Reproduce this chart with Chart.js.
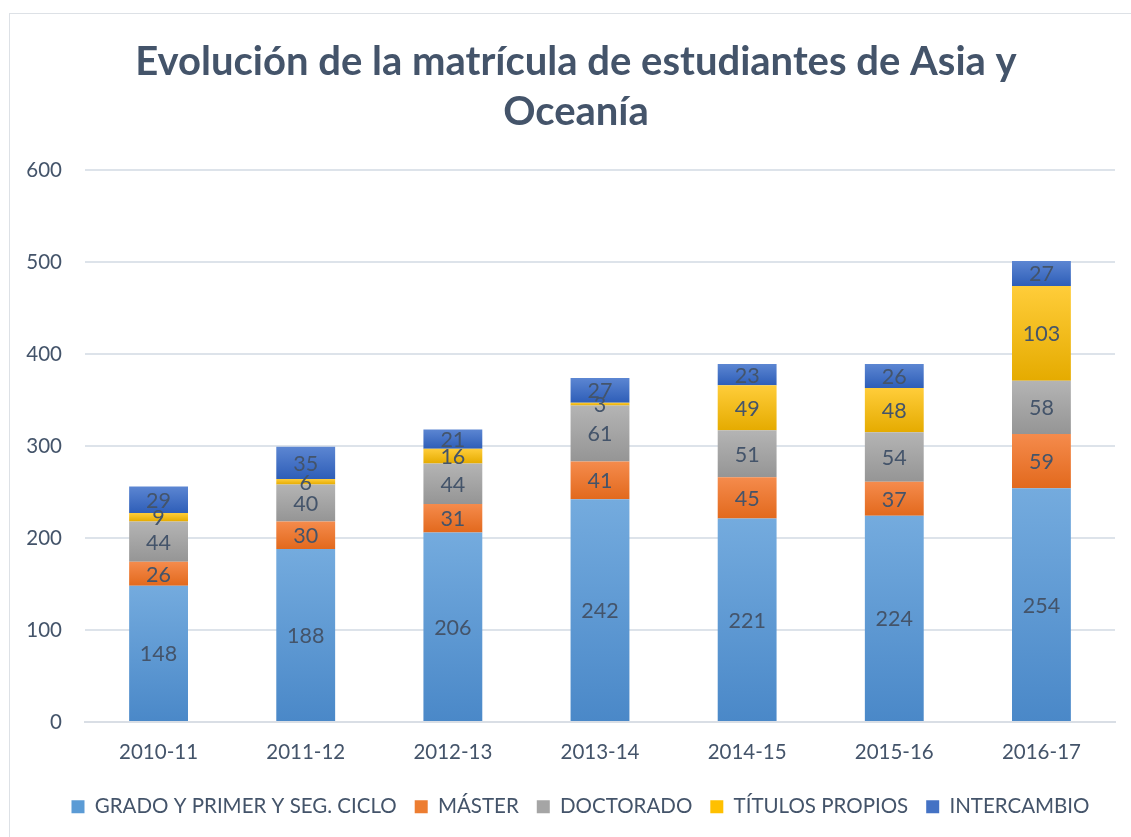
<!DOCTYPE html>
<html>
<head>
<meta charset="utf-8">
<script src="https://cdn.jsdelivr.net/npm/chart.js@4/dist/chart.umd.min.js"></script>
<style>
  html, body { margin: 0; padding: 0; background: #fff; }
  #frame { position: absolute; left: 9px; top: 13px; width: 1130px; height: 830px; border: 1px solid #dde1e6; box-sizing: border-box; pointer-events: none; }
  #c { position: absolute; left: 0; top: 0; }
</style>
</head>
<body>
<canvas id="c" width="1131" height="837"></canvas>
<div id="frame"></div>
<script>
const categories = ["2010-11", "2011-12", "2012-13", "2013-14", "2014-15", "2015-16", "2016-17"];
const seriesNames = ["GRADO Y PRIMER Y SEG. CICLO", "MÁSTER", "DOCTORADO", "TÍTULOS PROPIOS", "INTERCAMBIO"];
const grado = [148, 188, 206, 242, 221, 224, 254];
const master = [26, 30, 31, 41, 45, 37, 59];
const doctorado = [44, 40, 44, 61, 51, 54, 58];
const titulos = [9, 6, 16, 3, 49, 48, 103];
const intercambio = [29, 35, 21, 27, 23, 26, 27];
const yTicks = [0, 100, 200, 300, 400, 500, 600];

const seriesValues = [grado, master, doctorado, titulos, intercambio];
const gradTop = ["#74abde", "#f58b4c", "#b4b4b4", "#ffcd3a", "#5c86d2"];
const gradBottom = ["#4a88c8", "#e2691d", "#959595", "#e5ab00", "#2e5eb8"];
const solid = ["#5b9bd5", "#ed7d31", "#a5a5a5", "#ffc000", "#4472c4"];

const FONT = "Lato, Carlito, Calibri, 'Open Sans', sans-serif";
const TEXT = "#44546a";

function segmentGradient(ctx, dsIndex) {
  const chart = ctx.chart;
  const y = chart.scales && chart.scales.y;
  if (!y || !chart.chartArea || ctx.dataIndex === undefined) return solid[dsIndex];
  let base = 0;
  for (let k = 0; k < dsIndex; k++) base += seriesValues[k][ctx.dataIndex];
  const top = base + seriesValues[dsIndex][ctx.dataIndex];
  const p0 = y.getPixelForValue(top), p1 = y.getPixelForValue(base);
  if (!isFinite(p0) || !isFinite(p1) || p0 === p1) return solid[dsIndex];
  const g = chart.ctx.createLinearGradient(0, p0, 0, p1);
  g.addColorStop(0, gradTop[dsIndex]);
  g.addColorStop(1, gradBottom[dsIndex]);
  return g;
}

const datasets = seriesNames.map((name, i) => ({
  label: name,
  data: seriesValues[i],
  backgroundColor: (ctx) => segmentGradient(ctx, i),
  borderWidth: 0,
  barPercentage: 0.4,
  categoryPercentage: 1.0,
  stack: "s"
}));

const valueLabels = {
  id: "valueLabels",
  afterDatasetsDraw(chart) {
    const ctx = chart.ctx;
    ctx.save();
    ctx.font = "21.5px " + FONT;
    ctx.fillStyle = TEXT;
    ctx.textAlign = "center";
    ctx.textBaseline = "middle";
    chart.data.datasets.forEach((ds, di) => {
      const meta = chart.getDatasetMeta(di);
      meta.data.forEach((el, idx) => {
        const v = ds.data[idx];
        const cy = (el.y + el.base) / 2;
        ctx.fillText(String(v), el.x, cy + 1);
      });
    });
    ctx.restore();
  }
};

// The reference centres title and legend slightly right of the canvas middle.
const shiftBlocks = {
  id: "shiftBlocks",
  afterLayout(chart) {
    if (chart.titleBlock) { chart.titleBlock.left += 18.5; chart.titleBlock.right += 18.5; }
    if (chart.legend) { chart.legend.left += 23; chart.legend.right += 23; }
  }
};

new Chart(document.getElementById("c"), {
  type: "bar",
  data: { labels: categories, datasets },
  plugins: [valueLabels, shiftBlocks],
  options: {
    responsive: false,
    animation: false,
    layout: { padding: { left: 0, right: 16, top: 0, bottom: 10 } },
    plugins: {
      title: {
        display: true,
        text: ["Evolución de la matrícula de estudiantes de Asia y", "Oceanía"],
        color: TEXT,
        font: { family: FONT, size: 40, weight: "bold", lineHeight: 1.25 },
        padding: { top: 37, bottom: 33 }
      },
      legend: {
        position: "bottom",
        labels: {
          color: TEXT,
          font: { family: FONT, size: 20.5 },
          boxWidth: 13,
          boxHeight: 13,
          padding: 18,
          generateLabels(chart) {
            return chart.data.datasets.map((ds, i) => ({
              text: ds.label,
              fillStyle: solid[i],
              strokeStyle: solid[i],
              lineWidth: 0,
              datasetIndex: i,
              fontColor: TEXT
            }));
          }
        }
      },
      tooltip: { enabled: false }
    },
    scales: {
      x: {
        stacked: true,
        grid: { display: false, drawTicks: false },
        border: { color: "#d9dee5", width: 2 },
        ticks: { color: TEXT, font: { family: FONT, size: 20.5 }, padding: 18 },
        afterFit(axis) { axis.height -= 4; }
      },
      y: {
        stacked: true,
        min: 0,
        max: 600,
        afterBuildTicks(axis) { axis.ticks = yTicks.map(v => ({ value: v })); },
        afterFit(axis) { axis.width = 85; },
        grid: { color: "#dde3ea", lineWidth: 2, drawTicks: false },
        border: { display: false },
        ticks: { color: TEXT, font: { family: FONT, size: 20.5 }, padding: 23 }
      }
    }
  }
});
</script>
</body>
</html>
